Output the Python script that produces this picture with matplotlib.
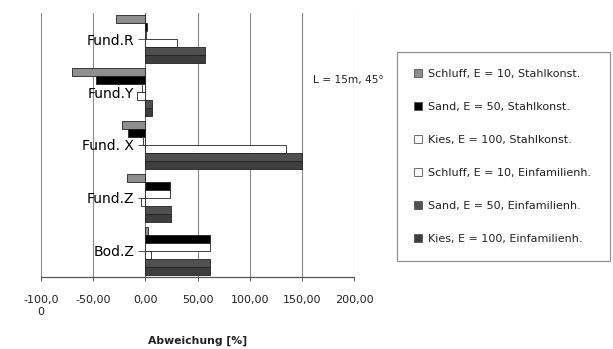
import numpy as np
import matplotlib
matplotlib.use("Agg")
import matplotlib.pyplot as plt
from matplotlib.patches import Patch

plt.rcParams['font.family'] = ['DejaVu Sans']

# Load cases (top to bottom)
categories = ["Fund.R", "Fund.Y", "Fund. X", "Fund.Z", "Bod.Z"]

# Deviation in percent for each soil / structure combination
schluff_stahl = [-28, -70, -22, -18, 3]
sand_stahl = [2, -47, -17, 24, 62]
kies_stahl = [0.5, -3, -2, 24, 62]
schluff_einfam = [30, -8, 135, -4, 5]
sand_einfam = [57, 6, 150, 25, 62]
kies_einfam = [57, 6, 150, 25, 62]

series_labels = [
    "Schluff, E = 10, Stahlkonst.",
    "Sand, E = 50, Stahlkonst.",
    "Kies, E = 100, Stahlkonst.",
    "Schluff, E = 10, Einfamilienh.",
    "Sand, E = 50, Einfamilienh.",
    "Kies, E = 100, Einfamilienh.",
]
series_values = [schluff_stahl, sand_stahl, kies_stahl,
                 schluff_einfam, sand_einfam, kies_einfam]
series_colors = ["#8e8e8e", "#000000", "#ffffff", "#ffffff", "#505050", "#3e3e3e"]

x_ticks = [-100, -50, 0, 50, 100, 150, 200]
x_ticklabels = ["-100,0\n0", "-50,00", "0,00", "50,00", "100,00", "150,00", "200,00"]

W, H = 613, 349
fig = plt.figure(figsize=(W / 100, H / 100), dpi=100)
ax = fig.add_axes([41 / W, 1 - 277 / H, (354 - 41) / W, (277 - 13) / H])

n = len(series_values)
bar_h = 0.152
ypos = np.arange(len(categories))
for i, (vals, col) in enumerate(zip(series_values, series_colors)):
    ax.barh(ypos + (i - (n - 1) / 2) * bar_h, vals, height=bar_h,
            color=col, edgecolor="#222222", linewidth=0.6, zorder=3)

ax.set_ylim(len(categories) - 0.5, -0.5)
ax.set_xlim(-100, 200)

ax.set_xticks(x_ticks)
ax.set_xticklabels(x_ticklabels, fontsize=8.0, color="#222222",
                   multialignment="center")
ax.tick_params(axis="x", direction="out", length=3, width=0.7,
               color="#555555", pad=10)
ax.xaxis.grid(True, color="#8a8a8a", linewidth=0.8, zorder=0)

ax.set_yticks(ypos)
ax.set_yticklabels(categories, fontsize=7.4, color="#222222")
ax.tick_params(axis="y", direction="out", length=5, width=0.7,
               color="#555555", pad=3)

for side in ("top", "right"):
    ax.spines[side].set_visible(False)
ax.spines["left"].set_position(("data", 0))
ax.spines["left"].set_color("#666666")
ax.spines["left"].set_linewidth(0.6)
ax.spines["bottom"].set_color("#555555")
ax.spines["bottom"].set_linewidth(0.9)

fig.text(197.5 / W, 1 - 341 / H, "Abweichung [%]", fontsize=7.8,
         fontweight="semibold", ha="center", va="center", color="#222222")

fig.text(313 / W, 1 - 80 / H, "L = 15m, 45°", fontsize=7.7,
         ha="left", va="center", color="#222222")

handles = [Patch(facecolor=c, edgecolor="#555555", linewidth=0.6)
           for c in series_colors]
leg = fig.legend(handles, series_labels, loc="upper left",
                 bbox_to_anchor=(397 / W, 1 - 52 / H, 213 / W, 0.0),
                 mode="expand", fontsize=8.0, frameon=True, fancybox=False,
                 edgecolor="#777777", borderpad=1.5, labelspacing=2.08,
                 handlelength=0.75, handleheight=0.75, handletextpad=0.55,
                 borderaxespad=0)
leg.get_frame().set_linewidth(0.9)
for t in leg.get_texts():
    t.set_color("#222222")

fig.savefig("out.png", dpi=100)
